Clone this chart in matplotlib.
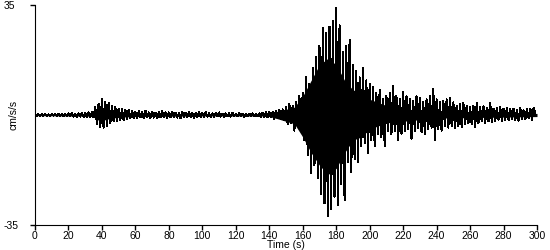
import numpy as np
import matplotlib
matplotlib.use("Agg")
import matplotlib.pyplot as plt

# Picos de aceleracao, um valor por segundo (cm/s/s)
accel = [
    0.2, -0.2, 0.3, -0.3, 0.2, -0.2, 0.3, -0.3, 0.2, -0.2, 0.3, -0.2, 0.2, -0.3, 0.3, -0.2, 0.2, -0.3, 0.3, -0.2,
    0.5, -0.4, 0.6, -0.5, 0.4, -0.6, 0.5, -0.5, 0.7, -0.6, 0.6, -0.7, 0.8, -0.6, 0.9, -0.8, 2.5, -2.8, 3.5, -3.8,
    5.0, -4.0, 4.2, -3.5, 3.8, -2.5, 2.8, -2.0, 2.5, -1.8, 2.0, -1.5, 1.8, -1.6, 1.5, -1.2, 1.6, -1.0, 1.3, -1.1,
    1.0, -0.9, 1.2, -0.8, 0.9, -1.0, 1.4, -0.7, 0.8, -0.9, 1.0, -0.8, 0.7, -1.1, 0.9, -0.7, 1.2, -0.8, 0.8, -0.9,
    0.8, -0.7, 1.1, -0.6, 0.7, -0.8, 0.6, -1.0, 0.9, -0.6, 0.7, -0.7, 1.0, -0.6, 0.6, -0.8, 0.7, -0.6, 0.9, -0.7,
    0.6, -0.5, 0.9, -0.5, 0.5, -0.7, 0.5, -0.5, 0.6, -0.4, 0.8, -0.5, 0.4, -0.6, 0.5, -0.4, 0.5, -0.5, 0.7, -0.4,
    0.4, -0.4, 0.5, -0.3, 0.4, -0.5, 0.3, -0.4, 0.4, -0.3, 0.5, -0.4, 0.3, -0.4, 0.5, -0.6, 0.7, -0.6, 0.9, -0.8,
    0.9, -0.8, 1.0, -1.2, 1.4, -1.0, 1.6, -1.3, 1.8, -1.5, 2.5, -3.0, 3.5, -2.5, 3.0, -5.0, 4.0, -3.5, 6.0, -4.5,
    7.0, -8.0, 12.0, -12.7, 10.0, -18.5, 15.0, -16.0, 18.5, -20.0, 22.0, -25.0, 27.7, -28.0, 26.0, -32.0, 28.0, -30.0, 30.0, -26.0,
    34.0, -28.6, 28.6, -22.0, 20.0, -27.0, 22.0, -15.0, 24.0, -18.0, 16.0, -14.0, 14.0, -15.0, 12.0, -10.0, 15.0, -9.0, 11.0, -12.0,
    10.0, -8.0, 9.0, -10.0, 7.0, -6.0, 8.0, -7.0, 5.0, -10.0, 6.0, -5.0, 7.0, -6.0, 9.2, -5.0, 6.0, -8.0, 5.0, -6.0,
    7.3, -5.0, 6.0, -4.5, 5.0, -7.6, 4.5, -5.0, 6.0, -4.0, 5.5, -5.5, 4.0, -6.0, 5.0, -4.5, 6.0, -4.0, 8.3, -8.0,
    5.0, -4.5, 4.0, -5.0, 4.5, -3.5, 5.0, -4.0, 5.4, -3.5, 4.0, -4.0, 3.0, -3.5, 3.5, -3.8, 3.8, -3.0, 3.0, -2.5,
    2.5, -3.0, 3.0, -3.8, 3.8, -2.5, 2.5, -2.0, 2.8, -2.5, 2.2, -2.0, 3.8, -2.2, 2.0, -1.8, 2.2, -1.5, 2.5, -1.8,
    2.0, -1.5, 2.2, -1.6, 1.8, -1.2, 2.0, -1.5, 1.6, -1.8, 2.2, -1.2, 1.5, -1.4, 1.8, -1.0, 2.0, -1.6, 2.2, 0.5,
]
tempo = np.arange(len(accel))

# Nucleo preenchido (regiao solida do registro)
nucleo_t = [0, 20, 35, 37, 40, 44, 50, 60, 100, 135, 140, 145, 150, 155, 160, 165, 170,
            175, 180, 185, 190, 195, 200, 205, 210, 220, 240, 300]
nucleo_sup = [0.2, 0.3, 0.4, 1.5, 1.8, 1.2, 0.7, 0.5, 0.3, 0.3, 0.5, 1.2, 1.8, 2.5, 6.0, 11.0, 16.0,
              18.0, 16.0, 11.0, 8.0, 7.0, 5.0, 4.0, 3.0, 2.0, 1.0, 0.5]
nucleo_inf = [-0.2, -0.3, -0.4, -1.5, -1.8, -1.2, -0.7, -0.5, -0.3, -0.3, -0.5, -1.2, -2.0, -2.8, -7.0, -12.0, -16.0,
              -19.0, -17.0, -12.0, -8.0, -7.0, -4.5, -3.5, -2.5, -2.0, -1.0, -0.5]

xticks = list(range(0, 301, 20))
yticks = [-35, 35]
ytick_labels = ['-35', '35']

plt.rcParams['font.family'] = ['Liberation Sans', 'DejaVu Sans']

fig = plt.figure(figsize=(5.5, 2.5), dpi=100)
ax = fig.add_axes([35 / 550, 25 / 250, 502 / 550, 220 / 250])

ax.fill_between(nucleo_t, nucleo_inf, nucleo_sup, color='black', linewidth=0, antialiased=False)
ax.plot(tempo, accel, color='black', linewidth=0.75, antialiased=False)

ax.set_xlim(0, 300)
ax.set_ylim(-35, 35)
ax.set_xticks(xticks)
ax.set_yticks(yticks)
ax.set_yticklabels(ytick_labels)
ax.tick_params(axis='x', length=3.5, width=1, labelsize=7.5, pad=1)
ax.tick_params(axis='y', length=3.5, width=1, labelsize=7.5, pad=19)
for lbl in ax.get_yticklabels():
    lbl.set_horizontalalignment('left')

ax.spines['top'].set_visible(False)
ax.spines['right'].set_visible(False)
ax.set_xlabel('Time (s)', fontsize=7.5, labelpad=-1)
ax.set_ylabel('cm/s/s', fontsize=7.5)
ax.yaxis.set_label_coords(-16 / 502, 0.5)

fig.savefig('out.png', dpi=100)
